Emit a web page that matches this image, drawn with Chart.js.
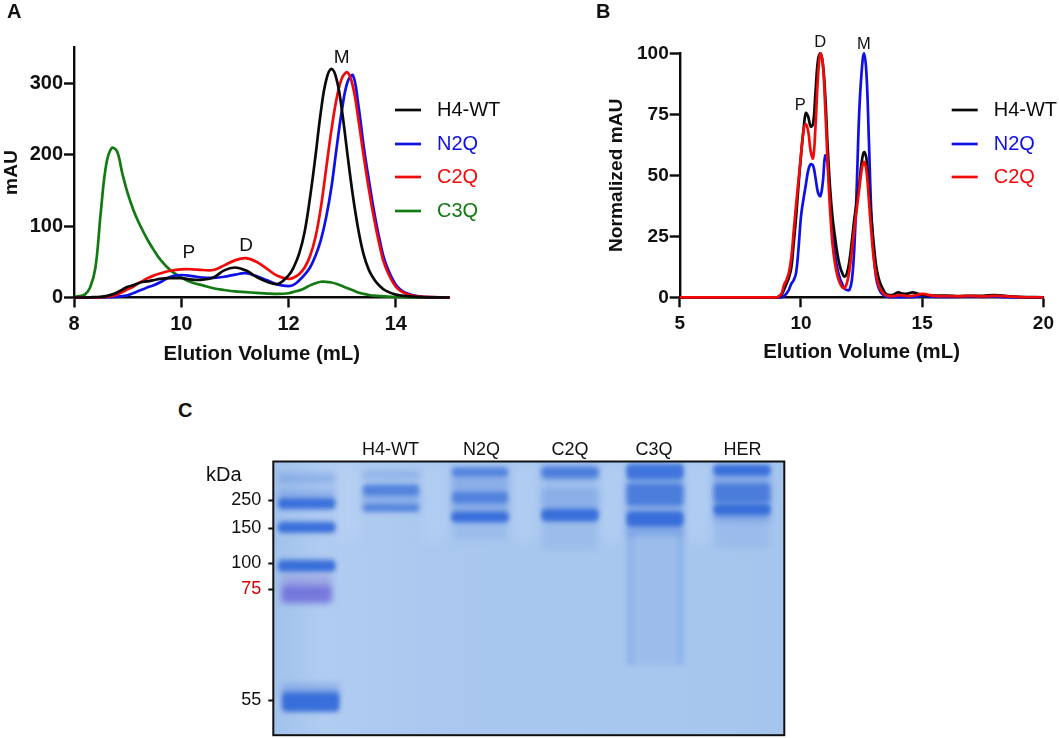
<!DOCTYPE html>
<html>
<head>
<meta charset="utf-8">
<script src="https://cdn.jsdelivr.net/npm/chart.js@4"></script>
<style>
  html, body { margin: 0; padding: 0; background: #fff; }
  #page { position: relative; width: 1059px; height: 738px; overflow: hidden; font-family: "Liberation Sans", Arial, sans-serif; }
  canvas { position: absolute; }
  .tag { position: absolute; font-weight: bold; font-size: 20px; line-height: 22px; color: #111; }
  .unit { position: absolute; font-size: 20px; line-height: 22px; color: #111; }
</style>
</head>
<body>
<div id="page">
  <canvas id="panelA" width="530" height="371" style="left:0;top:0"></canvas>
  <canvas id="panelB" width="530" height="369" style="left:529px;top:0"></canvas>
  <canvas id="panelC" width="610" height="313" style="left:190px;top:440px"></canvas>
  <div class="tag" style="left:7px;top:0">A</div>
  <div class="tag" style="left:596px;top:0">B</div>
  <div class="tag" style="left:178px;top:399px">C</div>
  <div class="unit" style="left:206px;top:463px">kDa</div>
</div>
<script>
// panel A, elution trace
const volumeA = [8, 8.1, 8.2, 8.3, 8.4, 8.5, 8.6, 8.7, 8.8, 8.9, 9, 9.1, 9.2, 9.3, 9.4, 9.5, 9.6, 9.8, 10, 10.2, 10.4, 10.6, 10.8, 11, 11.2, 11.4, 11.6, 11.8, 12, 12.1, 12.2, 12.3, 12.4, 12.5, 12.6, 12.7, 12.8, 12.9, 13, 13.1, 13.2, 13.3, 13.4, 13.5, 13.6, 13.7, 13.8, 14, 14.2, 14.5, 15];
const wtA = [0, 0, 0, 0.3, 0.6, 1, 2, 4, 7, 11, 15, 17, 20, 22, 23, 24.5, 26, 27, 27, 25, 25, 28, 38, 42, 38, 29, 22, 19, 31, 43, 62, 92, 140, 197, 259, 304, 320, 304, 259, 199, 142, 95, 60, 38, 25, 16, 10, 4, 2, 0.5, 0];
const n2qA = [0, 0, 0, 0, 0, 0, 0.3, 0.6, 1, 2, 3, 6, 9, 12, 15, 17.5, 21, 29, 31.5, 30, 28, 27.5, 29, 32, 34, 30, 24, 18, 16, 18, 24, 32, 42, 58, 80, 112, 155, 212, 265, 302, 311, 270, 212, 163, 118, 80, 50, 18, 6, 1, 0];
const c2qA = [0, 0, 0, 0, 0, 0.5, 1, 2, 4, 7.5, 11.5, 15, 20, 24, 28, 31, 33.5, 37.5, 39.5, 39.5, 38.5, 38.5, 45, 52, 55, 50, 40, 30, 26, 28, 33, 42, 58, 84, 125, 180, 235, 280, 308, 315, 295, 250, 198, 150, 108, 72, 44, 15, 5, 1, 0];
const c3qA = [1, 2, 4, 14, 42, 120, 186, 209, 205, 174, 146, 124, 106, 91, 77, 65, 54, 38, 28, 21, 17, 13, 10.5, 8.5, 7.5, 6.5, 5.5, 5, 6, 8, 10, 13, 17, 20, 22, 22, 21, 19, 16, 13, 10, 7, 5, 3.5, 2.5, 2, 1.5, 0.7, 0.3, 0.1, 0];

// panel B, normalised trace
const volumeB = [5, 9, 9.1, 9.2, 9.3, 9.4, 9.5, 9.6, 9.7, 9.8, 9.9, 10, 10.1, 10.2, 10.3, 10.4, 10.5, 10.6, 10.7, 10.8, 10.9, 11, 11.1, 11.2, 11.3, 11.4, 11.5, 11.6, 11.7, 11.8, 11.9, 12, 12.1, 12.2, 12.3, 12.4, 12.5, 12.6, 12.7, 12.8, 12.9, 13, 13.1, 13.2, 13.3, 13.4, 13.5, 13.6, 13.8, 14, 14.2, 14.4, 14.6, 14.8, 15, 15.5, 16, 16.5, 17, 17.5, 18, 18.5, 19, 20];
const wtB = [0, 0, 0.2, 1, 3, 5.5, 8, 12, 22, 33, 46, 58, 68, 75.5, 74, 70, 71, 84, 97, 100, 96, 83, 62, 45, 33, 25, 18, 13, 10, 8.5, 10, 15, 23, 32, 39, 46, 55, 59.5, 57, 45, 33, 22, 13, 8, 5, 3, 1.5, 1, 1, 2, 1.5, 1.5, 2, 1.5, 1, 0.7, 0.7, 0.5, 0.6, 0.6, 0.9, 0.5, 0.2, 0];
const n2qB = [0, 0, 0, 0, 0.5, 1.5, 3, 5.5, 7, 10, 20, 33, 40, 46, 52, 54.5, 54, 49, 43, 41.5, 47, 58, 55, 40, 27, 18, 12, 8, 5.5, 3.5, 3, 3, 7, 20, 45, 75, 92, 100, 92, 65, 35, 18, 8, 4, 2, 1, 0.5, 0.2, 0.1, 0.1, 0.1, 0.1, 0.1, 0.3, 0.6, 0.2, 0.2, 0.2, 0.3, 0.2, 0.3, 0.1, 0, 0];
const c2qB = [0, 0, 0.5, 1.5, 5, 7, 10, 16, 27, 38, 48, 58, 68, 71, 68, 60, 57, 70, 90, 100, 96, 78, 55, 36, 22, 14, 9, 6, 4.2, 3.8, 6, 11, 19, 28, 36, 44, 52, 55.5, 52, 40, 27, 16, 9, 5, 3, 1.5, 0.8, 0.6, 0.5, 0.8, 0.8, 0.5, 0.6, 1, 1.4, 0.6, 0.5, 0.4, 0.6, 0.4, 0.6, 0.4, 0.1, 0];

// panel C, gel: lane centre, band start, band end (migration distance from the top of the gel)
const laneLabels = ["H4-WT", "N2Q", "C2Q", "C3Q", "HER"];
const labelCentres = [117.2, 208.2, 296.7, 380.7, 469.2];
const markerLabels = ["250", "150", "100", "75", "55"];
const markerPositions = [38.5, 66.5, 101.5, 127.5, 238.5];
const ladder = 33.4, h4 = 117.7, n2q = 206.7, c2q = 296.7, c3q = 381.7, her = 468.7;
const gapBands = [[75, 3, 80], [162, 3, 80], [252, 3, 80], [339, 3, 80], [425, 3, 80]];
const smearBands = [[c3q, 62, 203], [c2q, 60, 88], [her, 54, 86], [n2q, 60, 78]];
const smearEdges = [[c3q - 25, 70, 203], [c3q + 26, 70, 203]];
const paleBands = [[ladder, 12, 22], [h4, 10, 17], [h4, 32, 45], [n2q, 15, 30], [n2q, 41, 52], [c2q, 3, 20], [c2q, 26, 47], [c3q, 19, 51], [c3q, 64, 74], [her, 14, 44], [her, 52, 60], [ladder + 4, 222, 236], [ladder, 28, 36]];
const midBands = [[ladder, 36, 48], [ladder, 60, 71], [ladder, 98, 110], [h4, 23, 34], [h4, 43, 50], [n2q, 6, 15], [n2q, 30, 42], [c2q, 6, 16], [c3q, 22, 44], [her, 22, 41], [her, 3, 15], [n2q, 50, 61], [c2q, 47, 60], [c3q, 50, 65], [her, 42, 54], [ladder + 4, 230, 250]];
const darkBands = [[ladder, 39, 45], [ladder, 63, 69], [ladder, 101, 108], [n2q, 52, 59], [c2q, 49, 58], [c3q, 51, 63], [c3q, 2, 19], [c3q, 4, 16], [her, 44, 52], [her, 5, 12], [ladder + 4, 234, 248]];
const markerViolet = [[ladder, 124, 141]];
const markerHaze = [[ladder, 113, 126]];

const peakLabelsA = [["P", 10.14, 63], ["D", 11.21, 73], ["M", 12.99, 336]];
const peakLabelsB = [["P", 9.97, 78.7], ["D", 10.79, 104.4], ["M", 12.59, 103.8]];

const BLACK = "#0a0a0a", BLUE = "#0f10e8", RED = "#f00a0a", GREEN = "#137a13";

function pairs(xs, ys) {
  return xs.map((x, i) => ({ x: x, y: ys[i] }));
}

function trace(label, xs, ys, color, order) {
  return {
    label: label,
    data: pairs(xs, ys),
    borderColor: color,
    borderWidth: 2.7,
    pointRadius: 0,
    tension: 0.4,
    clip: false,
    order: order,
  };
}

// legend and P/D/M letters
const annotate = {
  id: "annotate",
  afterDraw(chart, args, opts) {
    const ctx = chart.ctx;
    ctx.save();
    ctx.textBaseline = "middle";
    ctx.font = '20px "Liberation Sans"';
    opts.legend.forEach((name, i) => {
      const ds = chart.data.datasets.find((d) => d.label === name);
      const y = opts.legendY[i];
      ctx.strokeStyle = ds.borderColor;
      ctx.lineWidth = 2.7;
      ctx.beginPath();
      ctx.moveTo(opts.legendX, y);
      ctx.lineTo(opts.legendX + 26, y);
      ctx.stroke();
      ctx.fillStyle = ds.borderColor;
      ctx.fillText(name, opts.legendX + 42, y);
    });
    ctx.fillStyle = "#111";
    ctx.font = opts.peakFont;
    ctx.textAlign = "center";
    for (const [text, x, y] of opts.peaks) {
      ctx.fillText(text, chart.scales.x.getPixelForValue(x), chart.scales.y.getPixelForValue(y));
    }
    ctx.restore();
  },
};

function traceChart(id, datasets, cfg) {
  return new Chart(document.getElementById(id), {
    type: "line",
    data: { datasets: datasets },
    plugins: [annotate],
    options: {
      responsive: false,
      animation: false,
      layout: { padding: { top: cfg.top, right: cfg.right, left: 0, bottom: 0 } },
      scales: {
        x: {
          type: "linear",
          min: cfg.xMin,
          max: cfg.xMax,
          afterFit: (s) => { s.height = cfg.xHeight; },
          border: { color: BLACK, width: 2.4 },
          grid: { drawOnChartArea: false, color: BLACK, tickLength: 10, tickWidth: 2.4 },
          ticks: { stepSize: cfg.xStep, includeBounds: false, color: "#111", padding: 5, maxRotation: 0, font: { size: cfg.tickSize, weight: "bold", family: "Liberation Sans" } },
          title: { display: true, text: "Elution Volume (mL)", color: "#111", padding: { top: 6 }, font: { size: 20.4, weight: "bold", family: "Liberation Sans" } },
        },
        y: {
          min: 0,
          max: cfg.yMax,
          afterFit: (s) => { s.width = cfg.yWidth; },
          border: { color: BLACK, width: 2.4 },
          grid: { drawOnChartArea: false, color: BLACK, tickLength: 10, tickWidth: 2.4 },
          ticks: { stepSize: cfg.yStep, includeBounds: false, color: "#111", padding: 1, font: { size: cfg.tickSize, weight: "bold", family: "Liberation Sans" } },
          title: { display: true, text: cfg.yTitle, color: "#111", padding: cfg.titlePad, font: { size: 19.2, weight: "bold", family: "Liberation Sans" } },
        },
      },
      plugins: {
        legend: { display: false },
        tooltip: { enabled: false },
        annotate: { legend: cfg.legend, legendX: cfg.legendX, legendY: cfg.legendY, peaks: cfg.peaks, peakFont: cfg.peakFont },
      },
    },
  });
}

traceChart("panelA", [
  trace("C3Q", volumeA, c3qA, GREEN, 4),
  trace("N2Q", volumeA, n2qA, BLUE, 3),
  trace("C2Q", volumeA, c2qA, RED, 2),
  trace("H4-WT", volumeA, wtA, BLACK, 1),
], {
  top: 47.5, right: 80.5, xMin: 8, xMax: 15, xStep: 2, xHeight: 73.5, yMax: 350, yStep: 100, yWidth: 74, tickSize: 20,
  yTitle: "mAU", titlePad: { top: 0, bottom: 0 },
  legend: ["H4-WT", "N2Q", "C2Q", "C3Q"], legendX: 395, legendY: [110, 144, 177, 211],
  peaks: peakLabelsA, peakFont: '19px "Liberation Sans"',
});

traceChart("panelB", [
  trace("N2Q", volumeB, n2qB, BLUE, 3),
  trace("H4-WT", volumeB, wtB, BLACK, 2),
  trace("C2Q", volumeB, c2qB, RED, 1),
], {
  top: 53.3, right: 12.5, xMin: 5, xMax: 20, xStep: 5, xHeight: 71.7, yMax: 100, yStep: 25, yWidth: 150.7, tickSize: 19,
  yTitle: "Normalized mAU", titlePad: { top: 76, bottom: 0 },
  legend: ["H4-WT", "N2Q", "C2Q"], legendX: 422.7, legendY: [110, 144, 177],
  peaks: peakLabelsB, peakFont: '16.5px "Liberation Sans"',
});

function gelSet(bands, color, width, blur, order) {
  return {
    data: bands.map(([x, start, end]) => ({ x: x, y: [start, end] })),
    backgroundColor: color,
    barThickness: width,
    borderRadius: 4,
    borderSkipped: false,
    grouped: false,
    blur: blur,
    order: order,
  };
}

const gelStage = {
  id: "gelStage",
  beforeDatasetsDraw(chart) {
    const { ctx, chartArea: a } = chart;
    const g = ctx.createLinearGradient(a.left, 0, a.right, 0);
    g.addColorStop(0, "#a2c2ec");
    g.addColorStop(0.1, "#b0ccf1");
    g.addColorStop(0.35, "#a9c7ef");
    g.addColorStop(0.8, "#a8c7ef");
    g.addColorStop(1, "#a6c5ee");
    ctx.fillStyle = g;
    ctx.fillRect(a.left, a.top, a.width, a.height);
  },
  beforeDatasetDraw(chart, args) {
    const ctx = chart.ctx;
    ctx.save();
    ctx.filter = "blur(" + args.meta.controller.getDataset().blur + "px)";
  },
  afterDatasetDraw(chart) {
    chart.ctx.restore();
  },
  afterDraw(chart) {
    const { ctx, chartArea: a } = chart;
    ctx.strokeStyle = "#111";
    ctx.lineWidth = 2;
    ctx.strokeRect(a.left, a.top, a.width, a.height);
  },
};

new Chart(document.getElementById("panelC"), {
  type: "bar",
  data: {
    datasets: [
      gelSet(gapBands, "rgba(192,216,246,0.35)", 24, 6, 9),
      gelSet(smearBands, "rgba(90,135,222,0.15)", 54, 3, 8),
      gelSet(smearEdges, "rgba(80,130,225,0.16)", 7, 2, 7),
      gelSet(paleBands, "rgba(70,120,220,0.3)", 57, 3, 6),
      gelSet(midBands, "rgba(50,105,215,0.72)", 56, 2.4, 5),
      gelSet(markerHaze, "rgba(140,130,215,0.45)", 50, 3.5, 4),
      gelSet(markerViolet, "rgba(105,100,215,0.8)", 50, 3, 3),
      gelSet(darkBands, "rgba(30,90,215,0.5)", 56, 2, 2),
    ],
  },
  plugins: [gelStage],
  options: {
    responsive: false,
    animation: false,
    layout: { padding: { top: 0, right: 15.7, left: 0, bottom: 13 } },
    scales: {
      x: {
        type: "linear",
        position: "top",
        min: 0,
        max: 511,
        offset: false,
        afterBuildTicks: (s) => { s.ticks = labelCentres.map((v) => ({ value: v })); },
        afterFit: (s) => { s.height = 21.5; },
        border: { display: false },
        grid: { display: false, offset: false, drawTicks: false },
        ticks: {
          color: "#111",
          padding: 1,
          maxRotation: 0,
          autoSkip: false,
          font: { size: 18, family: "Liberation Sans" },
          callback: (v) => laneLabels[labelCentres.indexOf(v)],
        },
      },
      y: {
        reverse: true,
        min: 0,
        max: 273.5,
        afterBuildTicks: (s) => { s.ticks = markerPositions.map((v) => ({ value: v })); },
        afterFit: (s) => { s.width = 83.3; },
        border: { display: false },
        grid: { drawOnChartArea: false, color: "#111", tickLength: 5, tickWidth: 2 },
        ticks: {
          padding: 7,
          autoSkip: false,
          font: { size: 18, family: "Liberation Sans" },
          color: (c) => (c.tick && c.tick.label === "75" ? "#d40000" : "#111"),
          callback: (v) => markerLabels[markerPositions.indexOf(v)],
        },
      },
    },
    plugins: { legend: { display: false }, tooltip: { enabled: false } },
  },
});
</script>
</body>
</html>
